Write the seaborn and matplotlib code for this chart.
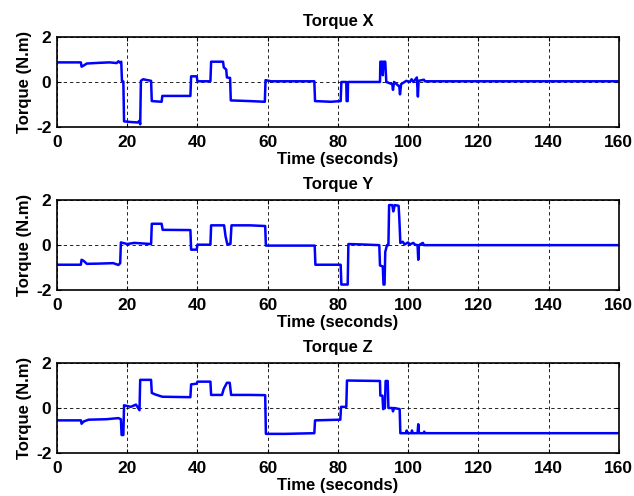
import numpy as np
import pandas as pd
import matplotlib
matplotlib.use("Agg")
import matplotlib.pyplot as plt
import seaborn as sns

# ---- data (knots) ----
tx = [0, 6.8, 7.0, 7.5, 8.5, 12, 15, 17, 17.5, 18.0, 18.3, 18.5, 18.9, 19.1, 21, 23, 23.5, 23.7, 23.9, 24.5,
      26.8, 27.0, 29.8, 30.0, 38.0, 38.2, 39.8, 40.0, 43.7, 43.9, 47.3, 47.5, 48.2, 48.4, 49.3, 49.5, 55, 59.2,
      59.4, 61, 73.3, 73.5, 78, 80.8, 81.0, 82.4, 82.5, 82.8, 82.9, 92.0, 92.1, 92.6, 92.8, 93.0, 93.5, 93.8,
      95.5, 95.7, 96.0, 97.5, 97.7, 98.0, 99.5, 100.5, 101, 101.5, 102.5, 102.8, 103.0, 104.5, 104.8, 160]
vx = [0.87, 0.87, 0.68, 0.72, 0.82, 0.85, 0.87, 0.84, 0.92, 0.85, 0.9, 0.05, 0.02, -1.75, -1.78, -1.8, -1.72,
      -1.88, 0.05, 0.12, 0.05, -0.85, -0.88, -0.62, -0.62, 0.25, 0.25, 0.03, 0.03, 0.9, 0.9, 0.65, 0.55, 0.2,
      0.18, -0.82, -0.85, -0.88, 0.08, 0.03, 0.03, -0.85, -0.88, -0.85, 0.0, 0.0, -0.85, -0.85, 0.0, 0.0, 0.9,
      0.9, 0.3, 0.9, 0.9, 0.0, -0.1, -0.35, 0.0, -0.2, -0.55, -0.1, 0.05, 0.0, 0.12, 0.0, 0.2, -0.65, 0.05,
      0.1, 0.03, 0.03]

ty = [0, 6.8, 7.0, 7.6, 8.5, 12, 16, 17.5, 18.0, 18.2, 20, 22, 26.8, 27.0, 29.8, 30.1, 38.0, 38.2, 39.8, 40.0,
      43.7, 43.9, 47.6, 48.0, 48.5, 49.4, 49.7, 55, 59.3, 59.5, 73.4, 73.6, 80.8, 81.0, 82.8, 83.0, 87, 91.8,
      92.0, 92.8, 93.0, 93.3, 93.5, 94.0, 94.4, 94.6, 95.5, 95.8, 96.2, 97.3, 97.5, 97.8, 98.5, 99, 100, 100.5,
      101.5, 102, 102.7, 102.9, 103.1, 104.2, 104.5, 160]
vy = [-0.87, -0.87, -0.65, -0.7, -0.83, -0.82, -0.8, -0.88, -0.8, 0.12, 0.05, 0.1, 0.05, 0.95, 0.95, 0.68,
      0.67, -0.2, -0.2, 0.02, 0.02, 0.88, 0.88, 0.4, 0.05, 0.05, 0.88, 0.88, 0.85, -0.02, -0.02, -0.87, -0.87,
      -1.75, -1.75, 0.05, 0.03, 0.0, -0.9, -0.95, -1.75, -1.75, -0.3, 0.0, 0.0, 1.78, 1.78, 1.5, 1.78, 1.75,
      1.2, 0.1, 0.15, 0.03, 0.12, 0.03, 0.1, 0.02, 0.0, -0.65, 0.0, 0.1, 0.0, 0.0]

tz = [0, 6.8, 7.0, 7.6, 9, 14, 17.5, 18.2, 18.4, 18.9, 19.1, 21, 22.5, 23.5, 23.7, 26.8, 27.0, 28, 30, 38.0,
      38.2, 39.8, 40.0, 43.7, 43.9, 47.0, 47.5, 48.4, 49.2, 49.6, 55, 59.3, 59.5, 65, 73.3, 73.5, 80.7, 80.9,
      82.4, 82.6, 92.0, 92.1, 92.7, 92.9, 93.4, 93.6, 94.2, 94.4, 95.5, 95.7, 96, 97.6, 97.8, 99.5, 99.6, 99.8,
      101, 101.1, 101.3, 102.7, 102.9, 103.1, 104.5, 104.6, 104.8, 160]
vz = [-0.55, -0.55, -0.7, -0.6, -0.52, -0.5, -0.45, -0.5, -1.2, -1.2, 0.12, 0.05, 0.15, -0.1, 1.25, 1.25,
      0.67, 0.6, 0.5, 0.48, 1.05, 1.08, 1.17, 1.17, 0.58, 0.58, 0.85, 1.12, 1.12, 0.58, 0.58, 0.57, -1.15,
      -1.15, -1.12, -0.55, -0.52, 0.05, 0.05, 1.22, 1.2, 0.55, 0.55, -0.05, 0.0, 1.2, 1.2, 0.0, 0.0, -0.15,
      0.0, -0.05, -1.12, -1.12, -1.0, -1.12, -1.12, -1.0, -1.12, -1.12, -0.72, -1.12, -1.12, -1.05, -1.12, -1.12]

titles = ["Torque X", "Torque Y", "Torque Z"]
xticks = [0, 20, 40, 60, 80, 100, 120, 140, 160]
yticks = [-2, 0, 2]

sns.set_style("white")
plt.rcParams['font.family'] = ['Liberation Sans', 'DejaVu Sans']
plt.rcParams['font.weight'] = 'bold'
plt.rcParams['text.color'] = 'black'
plt.rcParams['axes.labelcolor'] = 'black'
plt.rcParams['xtick.color'] = 'black'
plt.rcParams['ytick.color'] = 'black'
plt.rcParams['axes.unicode_minus'] = False

fig = plt.figure(figsize=(6.34, 4.96), dpi=100)
boxes = [[0.0899, 0.744, 0.886, 0.1815],
         [0.0899, 0.415, 0.886, 0.1815],
         [0.0899, 0.0867, 0.886, 0.1815]]
series = [(tx, vx), (ty, vy), (tz, vz)]

for box, (t, v), title in zip(boxes, series, titles):
    ax = fig.add_axes(box)
    df = pd.DataFrame({"t": t, "v": v})
    sns.lineplot(data=df, x="t", y="v", ax=ax, color=(0, 0, 1), linewidth=1.8,
                 estimator=None, sort=False)
    ax.set_xlim(0, 160)
    ax.set_ylim(-2, 2)
    ax.set_xticks(xticks)
    ax.set_yticks(yticks)
    ax.grid(True, color='black', linestyle=(0, (4, 3.5)), linewidth=0.6)
    ax.set_axisbelow(True)
    for s in ax.spines.values():
        s.set_color('black')
        s.set_linewidth(1.2)
    ax.tick_params(direction='in', length=3, width=0.8, labelsize=12.5, pad=6,
                   top=True, right=True, bottom=True, left=True)
    ax.tick_params(axis='y', pad=4)
    for lab in ax.get_xticklabels() + ax.get_yticklabels():
        lab.set_fontweight('bold')
    ax.set_title(title, fontsize=12, fontweight='bold', pad=8)
    ax.set_xlabel("Time (seconds)", fontsize=12, fontweight='bold', labelpad=1)
    ax.set_ylabel("Torque (N.m)", fontsize=12, fontweight='bold', labelpad=3)

fig.savefig("out.png", dpi=100)
